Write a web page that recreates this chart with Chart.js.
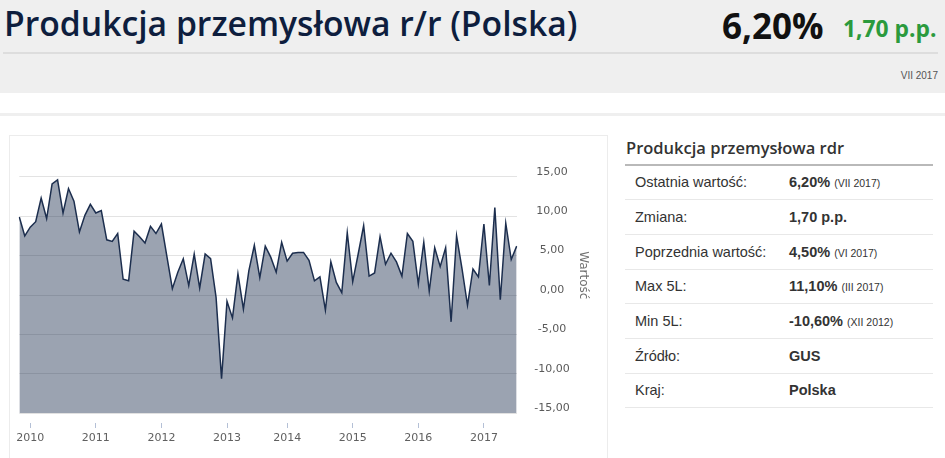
<!DOCTYPE html>
<html lang="pl">
<head>
<meta charset="utf-8">
<title>Produkcja przemysłowa r/r (Polska)</title>
<script src="https://cdn.jsdelivr.net/npm/chart.js@4.4.0/dist/chart.umd.min.js"></script>
<style>
  body { margin: 0; width: 945px; height: 458px; overflow: hidden; background: #fff; position: relative; font-family: "Liberation Sans", Arial, sans-serif; color: #333; }
  .abs { position: absolute; white-space: nowrap; }
  .band { left: 0; top: 0; width: 945px; height: 93px; background: #efefef; }
  .title { left: 4px; top: 7px; font-family: "Open Sans", sans-serif; font-size: 33.7px; line-height: 1; font-weight: 600; color: #0e1e3e; }
  .big { left: 722px; top: 8px; font-family: "Open Sans", sans-serif; font-size: 35px; line-height: 1; font-weight: 700; color: #111; }
  .chg { left: 843px; top: 17.5px; font-family: "Open Sans", sans-serif; font-size: 22.8px; line-height: 1; font-weight: 700; color: #2b9a3d; }
  .hline { left: 3px; top: 52px; width: 935px; height: 2px; background: #dddddd; }
  .date { right: 7px; top: 70px; font-size: 10px; color: #555; }
  .sep { left: 0; top: 113px; width: 945px; height: 3px; background: #efefef; }
  .box { left: 9px; top: 135px; width: 599px; height: 340px; border: 1px solid #ececec; box-sizing: border-box; }
  .wrap { left: 10px; top: 136px; width: 598px; height: 322px; }
  .ptitle { left: 626px; top: 140px; font-family: "Open Sans", sans-serif; font-size: 16.5px; line-height: 1; font-weight: 600; color: #333; }
  .pline { left: 625px; top: 163.5px; width: 308px; height: 2px; background: #b9b9b9; }
  .rows { left: 625px; top: 165.5px; width: 308px; }
  .row { height: 34.7px; border-bottom: 1px solid #e8e8e8; box-sizing: border-box; display: flex; align-items: center; font-size: 14.5px; position: relative; }
  .row .k { position: absolute; left: 10px; }
  .row .v { position: absolute; left: 164px; font-weight: 700; }
  .row .v small { font-weight: 400; font-size: 10.5px; }
</style>
</head>
<body>
<div class="abs band"></div>
<div class="abs title">Produkcja przemysłowa r/r (Polska)</div>
<div class="abs big">6,20%</div>
<div class="abs chg">1,70 p.p.</div>
<div class="abs hline"></div>
<div class="abs date">VII 2017</div>
<div class="abs sep"></div>

<div class="abs box"></div>
<div class="abs wrap"><canvas id="chart"></canvas></div>

<div class="abs ptitle">Produkcja przemysłowa rdr</div>
<div class="abs pline"></div>
<div class="abs rows">
  <div class="row"><span class="k">Ostatnia wartość:</span><span class="v">6,20% <small>(VII 2017)</small></span></div>
  <div class="row"><span class="k">Zmiana:</span><span class="v">1,70 p.p.</span></div>
  <div class="row"><span class="k">Poprzednia wartość:</span><span class="v">4,50% <small>(VI 2017)</small></span></div>
  <div class="row"><span class="k">Max 5L:</span><span class="v">11,10% <small>(III 2017)</small></span></div>
  <div class="row"><span class="k">Min 5L:</span><span class="v">-10,60% <small>(XII 2012)</small></span></div>
  <div class="row"><span class="k">Źródło:</span><span class="v">GUS</span></div>
  <div class="row"><span class="k">Kraj:</span><span class="v">Polska</span></div>
</div>

<script>
// months shown on the chart (no point for 2013-02 in the source picture)
const periods = [
  '2009-11', '2009-12',
  '2010-01', '2010-02', '2010-03', '2010-04', '2010-05', '2010-06', '2010-07', '2010-08', '2010-09', '2010-10', '2010-11', '2010-12',
  '2011-01', '2011-02', '2011-03', '2011-04', '2011-05', '2011-06', '2011-07', '2011-08', '2011-09', '2011-10', '2011-11', '2011-12',
  '2012-01', '2012-02', '2012-03', '2012-04', '2012-05', '2012-06', '2012-07', '2012-08', '2012-09', '2012-10', '2012-11', '2012-12',
  '2013-01', '2013-03', '2013-04', '2013-05', '2013-06', '2013-07', '2013-08', '2013-09', '2013-10', '2013-11', '2013-12',
  '2014-01', '2014-02', '2014-03', '2014-04', '2014-05', '2014-06', '2014-07', '2014-08', '2014-09', '2014-10', '2014-11', '2014-12',
  '2015-01', '2015-02', '2015-03', '2015-04', '2015-05', '2015-06', '2015-07', '2015-08', '2015-09', '2015-10', '2015-11', '2015-12',
  '2016-01', '2016-02', '2016-03', '2016-04', '2016-05', '2016-06', '2016-07', '2016-08', '2016-09', '2016-10', '2016-11', '2016-12',
  '2017-01', '2017-02', '2017-03', '2017-04', '2017-05', '2017-06', '2017-07'
];

// produkcja przemysłowa r/r, %
const values = [
  9.9, 7.5,
  8.6, 9.3, 12.3, 9.7, 14.1, 14.6, 10.4, 13.5, 11.9, 8.0, 10.1, 11.5,
  10.4, 10.7, 7.0, 6.8, 7.8, 2.0, 1.8, 8.1, 7.4, 6.6, 8.7, 7.8,
  9.0, 4.9, 0.8, 2.9, 4.6, 1.2, 5.2, 0.9, 5.2, 4.6, -0.3, -10.6,
  -0.8, -2.9, 2.7, -1.8, 3.1, 6.3, 2.2, 6.2, 4.8, 2.9, 6.7,
  4.3, 5.3, 5.4, 5.4, 4.4, 1.8, 2.3, -1.9, 4.2, 1.6, 0.3, 7.9,
  1.7, 5.2, 8.8, 2.4, 2.8, 7.4, 3.9, 5.3, 4.2, 2.4, 7.8, 6.8,
  1.4, 6.7, 0.5, 6.0, 3.6, 6.0, -3.4, 7.5, 3.3, -1.3, 3.3, 2.3,
  9.0, 1.2, 11.1, -0.6, 9.1, 4.5, 6.2
];

const yTickValues = [-15, -10, -5, 0, 5, 10, 15];

const isYearStart = i => periods[i] && periods[i].endsWith('-01');
const axisFont = { family: 'DejaVu Sans', size: 11 };
const tickMarkColor = '#b4c0d6';

const ctx = document.getElementById('chart').getContext('2d');

new Chart(ctx, {
  type: 'line',
  data: {
    labels: periods,
    datasets: [{
      label: 'Wartość',
      data: values,
      borderColor: '#1c2e4e',
      borderWidth: 1.5,
      backgroundColor: 'rgba(28, 46, 78, 0.44)',
      fill: 'start',
      pointRadius: 0,
      tension: 0
    }]
  },
  options: {
    responsive: true,
    maintainAspectRatio: false,
    animation: false,
    layout: { padding: { left: 9.3, top: 1.3, right: 0, bottom: 0 } },
    plugins: { legend: { display: false }, tooltip: { enabled: false } },
    scales: {
      x: {
        type: 'category',
        afterFit: s => { s.height = 44.7; s.paddingLeft = 0; s.paddingRight = 0; },
        border: { display: false },
        grid: {
          drawOnChartArea: false,
          tickLength: 15,
          tickWidth: 1,
          tickBorderDash: [5, 10],
          tickBorderDashOffset: 5,
          color: c => isYearStart(c.index) ? tickMarkColor : 'rgba(0,0,0,0)',
          tickColor: c => isYearStart(c.index) ? tickMarkColor : 'rgba(0,0,0,0)'
        },
        ticks: {
          autoSkip: false,
          maxRotation: 0,
          padding: 3,
          color: '#606060',
          font: axisFont,
          callback: (v, i) => isYearStart(i) ? periods[i].slice(0, 4) : ''
        }
      },
      y: {
        position: 'right',
        min: -15,
        max: 20,
        afterBuildTicks: s => { s.ticks = yTickValues.map(v => ({ value: v })); },
        afterFit: s => { s.width = 91.3; s.paddingTop = 0; s.paddingBottom = 0; },
        border: { display: false },
        grid: { color: '#e3e3e3', lineWidth: 1, drawTicks: false },
        ticks: {
          padding: 17.5,
          crossAlign: 'center',
          labelOffset: -5,
          color: '#5a5a5a',
          font: axisFont,
          callback: v => v.toFixed(2).replace('.', ',')
        },
        title: {
          display: true,
          text: 'Wartość',
          color: '#707070',
          font: { family: 'DejaVu Sans', size: 12 },
          padding: { top: 18, bottom: 0 }
        }
      }
    }
  }
});
</script>
</body>
</html>
